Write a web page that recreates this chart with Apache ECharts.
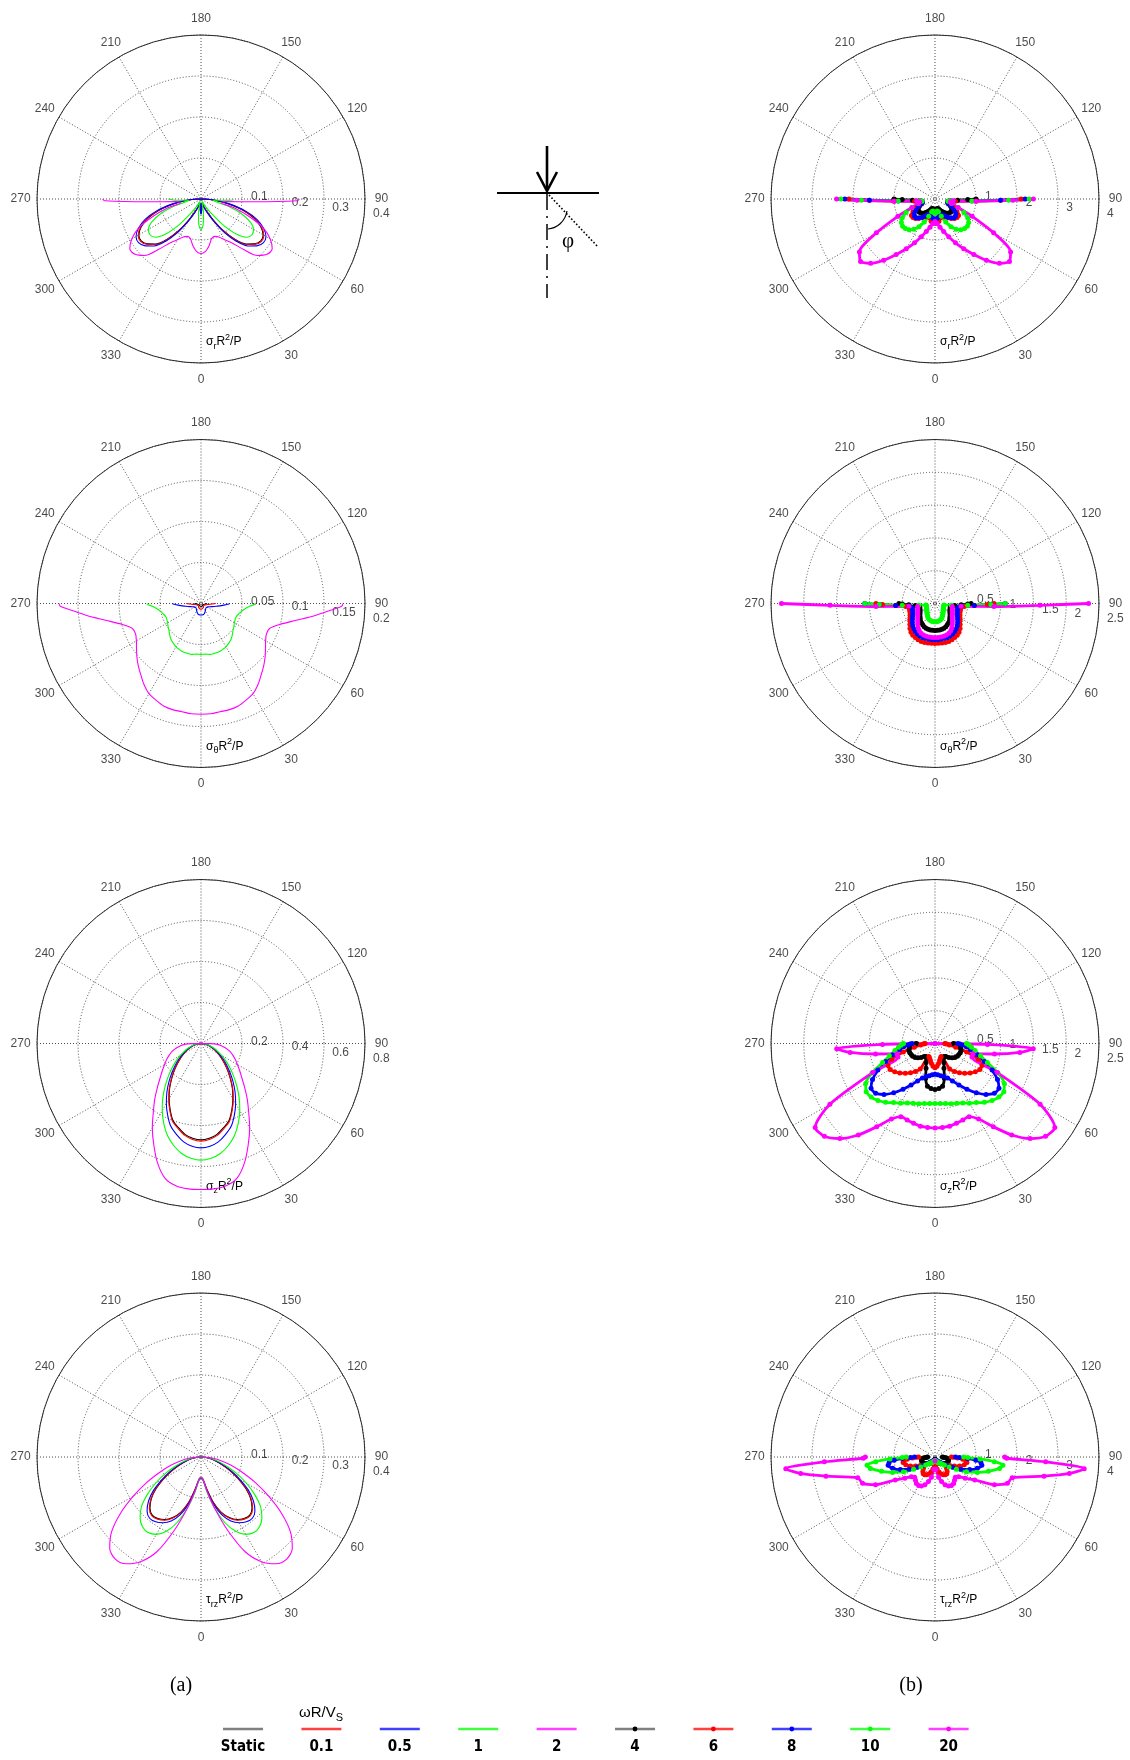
<!DOCTYPE html>
<html>
<head>
<meta charset="utf-8">
<script src="https://cdn.jsdelivr.net/npm/echarts@6.0.0/dist/echarts.min.js"></script>
<style>
  html, body { margin: 0; padding: 0; background: #fff; }
  #chart { width: 1130px; height: 1760px; }
</style>
</head>
<body>
<div id="chart"></div>
<script>
// Angle samples (deg from the vertical axis, 0 = straight down); curves are symmetric about it.
const PHI = [0, 5, 10, 15, 20, 25, 30, 35, 40, 45, 50, 55, 60, 65, 70, 75, 80, 84, 87, 89, 90];
const PHI_TRZ_B = [0, 5, 10, 15, 20, 25, 30, 35, 40, 45, 50, 55, 60, 65, 70, 75, 80, 83, 85.5, 87.5, 89, 90];
const ANGLE_TICKS = [0, 30, 60, 90, 120, 150, 180, 210, 240, 270, 300, 330];
const RING_LABEL_ANGLE = 82;

const FREQ_A = ['Static', '0.1', '0.5', '1', '2'];
const FREQ_B = ['4', '6', '8', '10', '20'];
const COLORS = ['#000000', '#ff0000', '#0000ff', '#00ff00', '#ff00ff'];

// ---- (a) sigma_r R^2/P ----
const srA_static = [.034,.02,.01,.012,.02,.034,.058,.093,.128,.155,.17,.178,.175,.161,.138,.106,.067,.04,.02,.01,0];
const srA_01     = [.035,.02,.01,.012,.02,.035,.06,.095,.13,.157,.172,.18,.177,.163,.14,.108,.068,.04,.02,.01,0];
const srA_05     = [.037,.021,.01,.013,.022,.038,.063,.1,.135,.162,.178,.186,.183,.168,.145,.112,.072,.044,.024,.012,0];
const srA_1      = [.075,.062,.035,.012,.006,.01,.02,.04,.08,.12,.145,.152,.148,.133,.105,.07,.035,.03,.06,.08,.08];
const srA_2      = [.133,.128,.115,.1,.097,.102,.115,.13,.16,.195,.21,.212,.195,.168,.125,.085,.05,.06,.13,.235,.24];

// ---- (a) sigma_theta R^2/P ----
const stA_static = [.004,.004,.004,.0038,.0036,.0034,.0032,.003,.003,.003,.003,.003,.003,.0032,.0035,.004,.0045,.0055,.0065,.0075,.008];
const stA_01     = [.007,.007,.0068,.0066,.0063,.006,.0055,.005,.0047,.0045,.0042,.004,.004,.0042,.005,.006,.0075,.01,.013,.016,.018];
const stA_05     = [.014,.014,.014,.0135,.0125,.0115,.0105,.0095,.0088,.0083,.008,.0082,.0088,.0098,.0115,.0145,.019,.025,.03,.034,.035];
const stA_1      = [.062,.062,.063,.063,.063,.062,.061,.059,.057,.054,.051,.049,.047,.046,.046,.048,.051,.055,.06,.065,.066];
const stA_2      = [.135,.135,.134,.134,.133,.13,.127,.121,.114,.108,.102,.096,.091,.088,.089,.099,.118,.14,.158,.172,.173];

// ---- (a) sigma_z R^2/P ----
const szA_static = [.47,.464,.45,.425,.4,.356,.311,.267,.222,.183,.148,.12,.094,.074,.054,.039,.025,.015,.008,.003,0];
const szA_01     = [.476,.47,.455,.43,.405,.36,.315,.27,.225,.185,.15,.122,.095,.075,.055,.04,.026,.016,.008,.003,0];
const szA_05     = [.509,.503,.487,.46,.43,.385,.338,.29,.243,.2,.163,.132,.103,.08,.06,.043,.028,.017,.009,.003,0];
const szA_1      = [.569,.562,.545,.515,.478,.43,.378,.325,.272,.225,.183,.148,.116,.09,.068,.05,.033,.021,.012,.005,0];
const szA_2      = [.712,.712,.705,.68,.62,.545,.475,.405,.35,.3,.26,.23,.205,.185,.165,.145,.12,.1,.08,.045,0];

// ---- (a) tau_rz R^2/P ----
const trzA_static = [.05,.054,.078,.113,.143,.163,.176,.183,.185,.176,.158,.133,.104,.077,.054,.037,.024,.015,.008,.003,0];
const trzA_01     = [.05,.055,.08,.115,.145,.165,.178,.185,.187,.178,.16,.135,.105,.078,.055,.038,.025,.015,.008,.003,0];
const trzA_05     = [.052,.057,.083,.12,.151,.172,.185,.193,.195,.186,.167,.141,.11,.082,.058,.04,.026,.016,.008,.003,0];
const trzA_1      = [.05,.055,.09,.13,.17,.2,.218,.225,.222,.21,.19,.16,.128,.097,.068,.046,.029,.018,.009,.003,0];
const trzA_2      = [.05,.055,.085,.13,.19,.255,.295,.318,.325,.315,.285,.24,.19,.145,.105,.075,.048,.03,.016,.006,0];

// ---- (b) sigma_r R^2/P ----
const srB_4  = [.3,.28,.25,.24,.25,.3,.35,.4,.45,.48,.5,.5,.47,.42,.36,.32,.32,.38,.55,.8,1.0];
const srB_6  = [.6,.58,.55,.48,.45,.47,.5,.56,.62,.67,.7,.7,.62,.5,.4,.35,.38,.5,1.0,1.6,2.1];
const srB_8  = [.5,.48,.45,.42,.4,.43,.48,.54,.6,.65,.65,.62,.55,.45,.38,.32,.33,.45,.9,1.6,2.2];
const srB_10 = [.35,.33,.3,.32,.45,.62,.78,.9,.98,1.02,1.03,1.0,.92,.78,.6,.42,.32,.4,.9,1.8,2.3];
const srB_20 = [.55,.6,.7,.82,.98,1.18,1.4,1.65,1.95,2.22,2.37,2.25,1.65,1.0,.6,.42,.38,.45,1.0,1.9,2.4];

// ---- (b) sigma_theta R^2/P ----
const stB_4  = [.41,.41,.41,.405,.4,.39,.375,.36,.345,.32,.3,.28,.265,.25,.245,.24,.25,.3,.4,.5,.55];
const stB_6  = [.61,.61,.61,.615,.615,.61,.6,.59,.57,.54,.5,.465,.44,.42,.405,.4,.4,.45,.6,.8,.9];
const stB_8  = [.55,.55,.55,.55,.55,.545,.535,.52,.5,.48,.45,.42,.395,.375,.36,.355,.355,.4,.6,.85,1.07];
const stB_10 = [.28,.28,.275,.27,.26,.245,.225,.205,.19,.175,.165,.155,.148,.142,.138,.135,.14,.25,.5,.85,1.07];
const stB_20 = [.52,.52,.52,.515,.51,.5,.48,.45,.41,.375,.345,.32,.305,.29,.28,.272,.268,.4,.9,1.6,2.34];

// ---- (b) sigma_z R^2/P ----
const szB_4  = [.7,.69,.66,.55,.4,.32,.26,.24,.26,.3,.34,.37,.39,.4,.41,.41,.4,.37,.33,.3,.28];
const szB_6  = [.37,.35,.31,.27,.24,.22,.45,.52,.58,.64,.7,.75,.79,.79,.7,.5,.32,.22,.18,.16,.15];
const szB_8  = [.47,.48,.5,.52,.56,.63,.73,.85,.98,1.1,1.18,1.19,1.1,.96,.8,.66,.55,.48,.42,.38,.35];
const szB_10 = [.915,.92,.93,.95,.97,1.0,1.05,1.1,1.17,1.23,1.27,1.28,1.22,1.06,.85,.72,.62,.56,.52,.5,.48];
const szB_20 = [1.29,1.285,1.28,1.26,1.24,1.23,1.33,1.55,1.82,2.05,2.2,2.23,1.85,1.05,.6,.6,.92,1.3,1.5,.8,0];

// ---- (b) tau_rz R^2/P (sampled on PHI_TRZ_B) ----
const trzB_4  = [.05,.06,.08,.1,.12,.14,.16,.18,.2,.22,.25,.28,.31,.33,.34,.34,.33,.3,.27,.23,.2,.18];
const trzB_6  = [.1,.2,.3,.38,.44,.48,.5,.5,.46,.4,.35,.35,.42,.52,.64,.74,.79,.76,.68,.55,.45,.4];
const trzB_8  = [.08,.08,.08,.09,.1,.11,.12,.14,.16,.2,.26,.36,.5,.7,.9,1.07,1.16,1.13,1.0,.8,.6,.5];
const trzB_10 = [.1,.1,.1,.1,.12,.14,.16,.18,.2,.24,.3,.42,.6,.85,1.1,1.35,1.6,1.67,1.45,1.1,.8,.7];
const trzB_20 = [.1,.3,.5,.62,.72,.78,.8,.79,.74,.7,.75,.9,1.12,1.6,1.88,1.95,2.7,3.3,3.65,2.7,1.75,1.7];

// Panel descriptions: column 0 = (a) low frequencies, column 1 = (b) high frequencies
const PANELS = [
  { col: 0, row: 0, rmax: 0.4, step: 0.1, rings: [0.1, 0.2, 0.3, 0.4], sym: 'σ', sub: 'r', phi: PHI, curves: [srA_static, srA_01, srA_05, srA_1, srA_2] },
  { col: 1, row: 0, rmax: 4, step: 1, rings: [1, 2, 3, 4], sym: 'σ', sub: 'r', phi: PHI, curves: [srB_4, srB_6, srB_8, srB_10, srB_20] },
  { col: 0, row: 1, rmax: 0.2, step: 0.05, rings: [0.05, 0.1, 0.15, 0.2], sym: 'σ', sub: 'θ', phi: PHI, curves: [stA_static, stA_01, stA_05, stA_1, stA_2] },
  { col: 1, row: 1, rmax: 2.5, step: 0.5, rings: [0.5, 1, 1.5, 2, 2.5], sym: 'σ', sub: 'θ', phi: PHI, curves: [stB_4, stB_6, stB_8, stB_10, stB_20] },
  { col: 0, row: 2, rmax: 0.8, step: 0.2, rings: [0.2, 0.4, 0.6, 0.8], sym: 'σ', sub: 'z', phi: PHI, curves: [szA_static, szA_01, szA_05, szA_1, szA_2] },
  { col: 1, row: 2, rmax: 2.5, step: 0.5, rings: [0.5, 1, 1.5, 2, 2.5], sym: 'σ', sub: 'z', phi: PHI, curves: [szB_4, szB_6, szB_8, szB_10, szB_20] },
  { col: 0, row: 3, rmax: 0.4, step: 0.1, rings: [0.1, 0.2, 0.3, 0.4], sym: 'τ', sub: 'rz', phi: PHI, curves: [trzA_static, trzA_01, trzA_05, trzA_1, trzA_2] },
  { col: 1, row: 3, rmax: 4, step: 1, rings: [1, 2, 3, 4], sym: 'τ', sub: 'rz', phi: PHI_TRZ_B, curves: [trzB_4, trzB_6, trzB_8, trzB_10, trzB_20] }
];

// Layout
const COL_X = [201, 935];
const ROW_Y = [199, 603.5, 1043.5, 1457];
const RADIUS = 164;
const FONT = '"Liberation Sans", Arial, sans-serif';
const GRID_LINE = { color: '#4f4f4f', width: 1, type: [1, 2] };

// Symmetric curve: left half (270..355) followed by right half (0..90)
function polarPoints(phi, vals) {
  const pts = [];
  for (let k = phi.length - 1; k >= 1; k--) pts.push([vals[k], 360 - phi[k]]);
  for (let k = 0; k < phi.length; k++) pts.push([vals[k], phi[k]]);
  return pts;
}

const option = {
  animation: false,
  backgroundColor: '#ffffff',
  polar: [],
  angleAxis: [],
  radiusAxis: [],
  series: [],
  graphic: []
};

PANELS.forEach((p, i) => {
  const cx = COL_X[p.col], cy = ROW_Y[p.row];
  option.polar.push({ center: [cx, cy], radius: RADIUS });
  option.angleAxis.push({
    polarIndex: i, type: 'value', min: 0, max: 360, interval: 30,
    startAngle: 270, clockwise: false,
    axisLine: { show: true, lineStyle: { color: '#2a2a2a', width: 1 } },
    axisTick: { show: false },
    axisLabel: { show: false },
    splitLine: { show: true, lineStyle: GRID_LINE }
  });
  option.radiusAxis.push({
    polarIndex: i, type: 'value', min: 0, max: p.rmax, interval: p.step,
    axisLine: { show: false }, axisTick: { show: false }, axisLabel: { show: false },
    splitLine: { show: true, lineStyle: GRID_LINE }
  });

  const names = p.col === 0 ? FREQ_A : FREQ_B;
  p.curves.forEach((vals, k) => {
    const marked = p.col === 1;
    option.series.push({
      type: 'line', coordinateSystem: 'polar', polarIndex: i,
      name: names[k],
      data: polarPoints(p.phi, vals),
      smooth: marked ? 0.25 : 0.3,
      showSymbol: marked,
      symbol: 'circle',
      symbolSize: 5,
      lineStyle: { color: COLORS[k], width: marked ? 2.8 : 1.1 },
      itemStyle: { color: COLORS[k] },
      silent: true
    });
  });

  // Angle tick labels, centred just outside the rim
  option.series.push({
    type: 'scatter', coordinateSystem: 'polar', polarIndex: i,
    clip: false, silent: true, symbolSize: 1,
    itemStyle: { color: 'rgba(0,0,0,0)' },
    data: ANGLE_TICKS.map(a => [p.rmax * 1.1, a]),
    label: {
      show: true, position: 'inside', align: 'center', verticalAlign: 'middle',
      formatter: q => String(q.value[1]),
      fontFamily: FONT, fontSize: 12, color: '#1a1a1a'
    }
  });

  // Ring value labels along the 82-degree ray
  option.series.push({
    type: 'scatter', coordinateSystem: 'polar', polarIndex: i,
    clip: false, silent: true, symbolSize: 1,
    itemStyle: { color: 'rgba(0,0,0,0)' },
    data: p.rings.map(v => [v, RING_LABEL_ANGLE]),
    label: {
      show: true, position: [0, 0], align: 'left', verticalAlign: 'middle',
      offset: [10, -7.5],
      formatter: q => String(q.value[0]),
      fontFamily: FONT, fontSize: 12, color: '#1a1a1a'
    }
  });

  // Quantity caption inside the lower rim
  option.graphic.push({
    type: 'text', x: cx + 5, y: cy + 143, silent: true,
    style: {
      text: '{m|' + p.sym + '}{s|' + p.sub + '}{m|R}{p|2}{m|/P}',
      align: 'left', verticalAlign: 'middle',
      rich: {
        m: { fontSize: 12, fontFamily: FONT, lineHeight: 18, verticalAlign: 'middle', fill: '#000' },
        s: { fontSize: 9, fontFamily: FONT, lineHeight: 9, verticalAlign: 'bottom', fill: '#000' },
        p: { fontSize: 9, fontFamily: FONT, lineHeight: 9, verticalAlign: 'top', fill: '#000' }
      }
    }
  });
});

// Point load sketch with the angle phi
option.graphic.push(
  { type: 'line', silent: true, shape: { x1: 547, y1: 146, x2: 547, y2: 189 }, style: { stroke: '#000', lineWidth: 2.6 } },
  { type: 'polyline', silent: true, shape: { points: [[537, 172], [547, 191], [557, 172]] }, style: { stroke: '#000', lineWidth: 2.6, fill: null } },
  { type: 'line', silent: true, shape: { x1: 497, y1: 193, x2: 599, y2: 193 }, style: { stroke: '#000', lineWidth: 2 } },
  { type: 'line', silent: true, shape: { x1: 547, y1: 194, x2: 547, y2: 298 }, style: { stroke: '#000', lineWidth: 1.5, lineDash: [16, 6, 2, 6] } },
  { type: 'line', silent: true, shape: { x1: 549, y1: 195, x2: 598, y2: 247 }, style: { stroke: '#000', lineWidth: 1.6, lineDash: [1.6, 2] } },
  { type: 'bezierCurve', silent: true, shape: { x1: 548, y1: 229, cpx1: 557, cpy1: 228, cpx2: 565, cpy2: 222, x2: 567, y2: 211 }, style: { stroke: '#000', lineWidth: 1.2, fill: null } },
  { type: 'text', silent: true, x: 568, y: 241, style: { text: 'φ', font: '21px "Liberation Serif", serif', fill: '#000', align: 'center', verticalAlign: 'middle' } }
);

// Column tags
option.graphic.push(
  { type: 'text', silent: true, x: 181, y: 1686, style: { text: '(a)', font: '20px "Liberation Serif", serif', fill: '#000', align: 'center', verticalAlign: 'middle' } },
  { type: 'text', silent: true, x: 911, y: 1686, style: { text: '(b)', font: '20px "Liberation Serif", serif', fill: '#000', align: 'center', verticalAlign: 'middle' } }
);

// Legend row: line sample above, bold label below
const LEG_NAMES = FREQ_A.concat(FREQ_B);
const LEG_X0 = 243, LEG_DX = 78.4, LEG_LINE_Y = 1729, LEG_TEXT_Y = 1747;
const LEG_FONT = 'bold 15px "Liberation Sans Narrow", "DejaVu Sans Condensed", "Liberation Sans", sans-serif';
LEG_NAMES.forEach((name, i) => {
  const x = LEG_X0 + i * LEG_DX;
  const color = COLORS[i % 5] === '#000000' ? '#555555' : COLORS[i % 5];
  option.graphic.push({
    type: 'line', silent: true,
    shape: { x1: x - 20, y1: LEG_LINE_Y, x2: x + 20, y2: LEG_LINE_Y },
    style: { stroke: color, lineWidth: 2.4, opacity: 0.75 }
  });
  if (i >= 5) {
    option.graphic.push({ type: 'circle', silent: true, shape: { cx: x, cy: LEG_LINE_Y, r: 2.4 }, style: { fill: COLORS[i % 5] } });
  }
  option.graphic.push({
    type: 'text', silent: true, x: x, y: LEG_TEXT_Y,
    style: { text: name, font: LEG_FONT, fill: '#000', align: 'center', verticalAlign: 'middle' }
  });
});
option.graphic.push({
  type: 'text', silent: true, x: 321, y: 1713,
  style: {
    text: '{m|ωR/V}{s|S}', align: 'center', verticalAlign: 'middle',
    rich: {
      m: { fontSize: 15, fontFamily: FONT, lineHeight: 20, verticalAlign: 'middle', fill: '#000' },
      s: { fontSize: 11, fontFamily: FONT, lineHeight: 11, verticalAlign: 'bottom', fill: '#000' }
    }
  }
});

const chart = echarts.init(document.getElementById('chart'), null, { renderer: 'canvas' });
chart.setOption(option);
</script>
</body>
</html>
